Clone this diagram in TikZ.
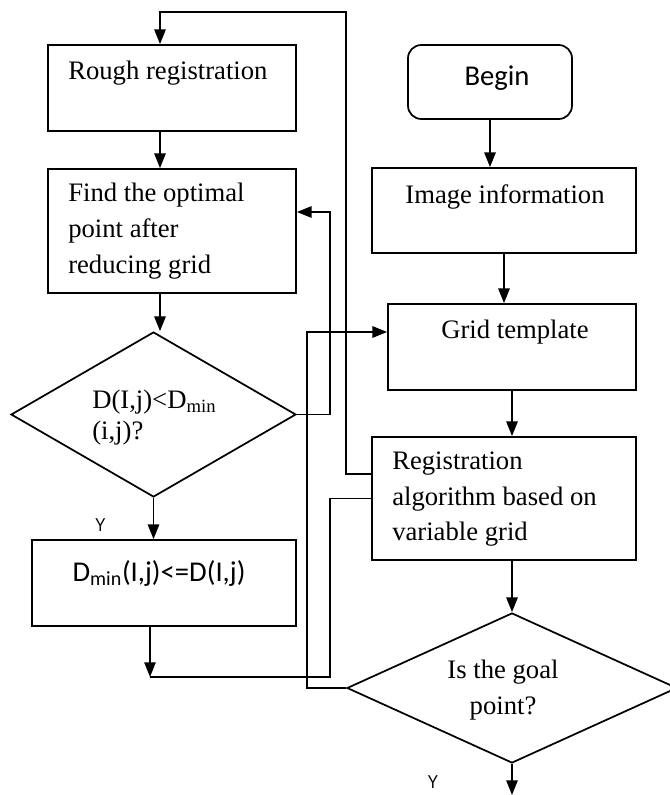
\documentclass[tikz,border=0pt]{standalone}
\usepackage{fontspec}
\setmainfont{Liberation Serif}
\newfontfamily\calib{Carlito}
\newfontfamily\arialf{Liberation Sans}
\usetikzlibrary{shapes.geometric,arrows.meta}
\begin{document}
\begin{tikzpicture}[x=0.75pt,y=-0.75pt,
  boxnode/.style={draw,line width=1.3pt,rectangle,inner sep=0pt},
  dia/.style={draw,line width=1.3pt,diamond,inner sep=0pt},
  arr/.style={line width=1.3pt,-{Triangle[length=11pt,width=8.5pt]}},
  ln/.style={line width=1.3pt},
  serif/.style={font=\fontsize{20}{27}\selectfont,inner sep=0pt,align=left},
  sans/.style={font=\calib\fontsize{21.5}{25}\selectfont,inner sep=0pt},
  lab/.style={font=\arialf\fontsize{14}{16}\selectfont,inner sep=0pt,xscale=0.85}]
\useasboundingbox (0,0) rectangle (669,795);
% boxes
\node[boxnode,minimum width=186pt,minimum height=64.5pt] (rough) at (172,88) {};
\node[boxnode,minimum width=186pt,minimum height=93pt] (find) at (172,231) {};
\node[dia,minimum width=213.75pt,minimum height=123.75pt] (d1) at (153.5,414.5) {};
\node[boxnode,minimum width=198pt,minimum height=64.5pt] (dmin) at (164,583) {};
\node[boxnode,rounded corners=10pt,minimum width=123pt,minimum height=55.5pt] (begin) at (490,82) {};
\node[boxnode,minimum width=198pt,minimum height=63.75pt] (img) at (504,210.5) {};
\node[boxnode,minimum width=186pt,minimum height=64.5pt] (grid) at (512,347) {};
\node[boxnode,minimum width=198pt,minimum height=92.25pt] (reg) at (504,498.5) {};
\node[dia,minimum width=247.5pt,minimum height=112.5pt] (d2) at (512,688) {};
% texts
\node[serif,anchor=west] (trough) at (68,73) {Rough registration};
\node[serif,anchor=west] (tfind) at (68,231) {Find the optimal\\point after\\reducing grid};
\node[sans] (tbegin) at (497,78) {Begin};
\node[serif] (timg) at (505,197) {Image information};
\node[serif] (tgrid) at (515,332) {Grid template};
\node[serif,anchor=west,font=\fontsize{20}{26.6}\selectfont] (treg) at (392,499.5) {Registration\\algorithm based on\\variable grid};
\node[serif,anchor=west,font=\fontsize{20}{23.3}\selectfont] (td1) at (92,417.5) {D(I,j)<D\textsubscript{min}\\(i,j)?};
\node[sans] (tdmin) at (159,573) {D\textsubscript{min}(I,j)<=D(I,j)};
\node[serif,align=center] (td2) at (503,690) {Is the goal\\point?};
\node[lab] (y1) at (100.5,525) {Y};
\node[lab] (y2) at (433,782) {Y};
% helper coordinates
\coordinate (lx) at (160,0);
\coordinate (jn) at (150,677);
\coordinate (endp) at (512,795);
\coordinate (fy) at (0,212);
\coordinate (gy) at (0,332);
% connectors
\draw[arr] (begin.south) -- (begin.south |- img.north);
\draw[arr] (img.south) -- (img.south |- grid.north);
\draw[arr] (grid.south) -- (grid.south |- reg.north);
\draw[arr] (reg.south -| d2.north) -- (d2.north);
\draw[arr] (d2.south) -- (endp);
\draw[arr] ([yshift=18.4pt]reg.west) -| (346,12) -| (rough.north -| lx);
\draw[arr] (rough.south -| lx) -- (find.north -| lx);
\draw[arr] (find.south -| lx) -- (d1.north -| lx);
\draw[arr] (d1.south) -- (d1.south |- dmin.north);
\draw[arr] (dmin.south -| jn) -- (jn);
\draw[ln] (jn) -- (330,677) |- (reg.west);
\draw[arr] (d1.east) -- (330,414.5) |- (find.east |- fy);
\draw[arr] (d2.west) -- (307,688) |- (grid.west |- gy);
\end{tikzpicture}
\end{document}
